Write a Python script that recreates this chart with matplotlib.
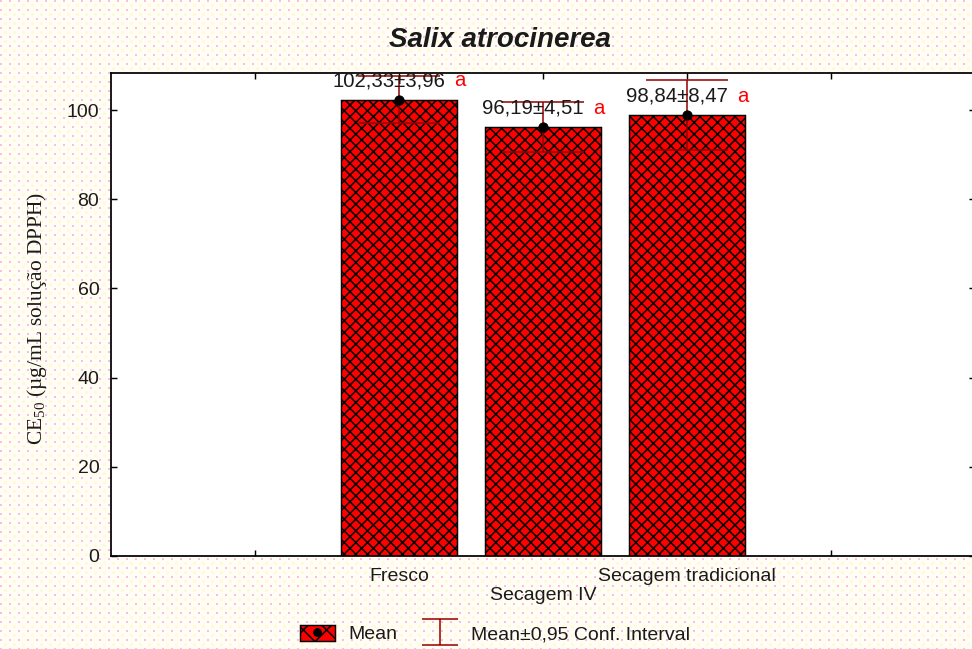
import numpy as np
import matplotlib
matplotlib.use('Agg')
import matplotlib.pyplot as plt
from matplotlib.patches import Patch
from matplotlib.lines import Line2D
from matplotlib.path import Path

# Dados do gráfico
categorias = ['Fresco', 'Secagem IV', 'Secagem tradicional']
medias = [102.33, 96.19, 98.84]
desvios = [3.96, 4.51, 8.47]
ic95 = [5.2, 5.5, 7.9]
letras = ['a', 'a', 'a']

# Estilo geral
dpi = 70
plt.rcParams['font.family'] = ['Liberation Sans', 'DejaVu Sans']
plt.rcParams['hatch.linewidth'] = 1.6
plt.rcParams['mathtext.fontset'] = 'custom'
plt.rcParams['mathtext.rm'] = 'Liberation Serif'

vermelho = '#FF0000'
vinho = '#990000'
texto = '#1a1a1a'

fig = plt.figure(figsize=(972 / dpi, 649 / dpi), dpi=dpi)
fig.patch.set_facecolor('#FFFEF6')

# Fundo pontilhado (amarelo claro com pontos rosa)
tile = np.ones((9, 9, 3))
tile[:, :] = [1.0, 0.996, 0.965]
tile[0:2, 0:2] = [0.97, 0.76, 0.84]
tile[4:7, 4:7] = [1.0, 0.98, 0.84]
fundo = np.tile(tile, (649 // 9 + 1, 972 // 9 + 1, 1))[:649, :972]
fig.figimage(fundo, 0, 0, zorder=-1)

ax = fig.add_axes([111 / 972, 1 - 556 / 649, (975 - 111) / 972, (556 - 73) / 649])
ax.set_facecolor('white')

x = np.arange(len(categorias))

# Barras com padrão quadriculado
ax.bar(x, medias, width=0.80, color=vermelho, edgecolor='black',
       linewidth=1.5, hatch='xx', zorder=2)

# Intervalo de confiança
ax.errorbar(x, medias, yerr=ic95, fmt='none', ecolor=vinho, elinewidth=1.6,
            capsize=42, capthick=1.6, zorder=3)
ax.plot(x, medias, 'o', color='black', markersize=9.5, zorder=4)

# Rótulos média±desvio e letra
for i in range(len(categorias)):
    num = f'{medias[i]:.2f}±{desvios[i]:.2f}'.replace('.', ',')
    t = ax.annotate(num, xy=(x[i], medias[i] + 4.2), xytext=(-10, 0),
                    textcoords='offset pixels', ha='center', va='center',
                    fontsize=21, color=texto, zorder=5)
    ax.annotate(letras[i], xy=(1, 0.5), xycoords=t, xytext=(9, 0),
                textcoords='offset pixels', ha='left', va='center',
                fontsize=21, color=vermelho, zorder=5)

ax.set_xlim(-2, 4)
ax.set_ylim(0, 108.3)

ax.set_xticks([-1, 0, 1, 2, 3])
ax.set_xticklabels(['', categorias[0], '\n' + categorias[1], categorias[2], ''])
ax.set_yticks([0, 20, 40, 60, 80, 100])

ax.tick_params(axis='both', direction='in', length=6, width=1.5,
               labelsize=20, labelcolor=texto, top=True, right=True)
ax.tick_params(axis='x', pad=12)
ax.tick_params(axis='y', pad=12)

for s in ax.spines.values():
    s.set_linewidth(1.8)

# Título e eixo y
fig.text(500 / 972, 1 - 40 / 649, 'Salix atrocinerea', ha='center', va='center',
         fontsize=28.5, fontweight='bold', fontstyle='italic', color=texto)
fig.text(37 / 972, 1 - 318 / 649, 'CE$_{\\mathregular{50}}$ (µg/mL solução DPPH)',
         rotation=90, ha='center', va='center', fontsize=22,
         family='Liberation Serif', color=texto)

# Legenda
h_media = (Patch(facecolor=vermelho, edgecolor='black', hatch='x', linewidth=1.5),
           Line2D([], [], ls='none', marker='o', color='black', markersize=8))
forma_i = Path([(-1, 0.72), (1, 0.72), (0, 0.72), (0, -0.72), (-1, -0.72), (1, -0.72)],
               [Path.MOVETO, Path.LINETO, Path.MOVETO, Path.LINETO, Path.MOVETO, Path.LINETO])
h_ic = Line2D([], [], ls='none', marker=forma_i, markersize=37,
              markeredgecolor=vinho, markerfacecolor='none', markeredgewidth=1.6)
fig.legend([h_media, h_ic], ['Mean', 'Mean±0,95 Conf. Interval'],
           loc='center', bbox_to_anchor=(495 / 972, 1 - 634 / 649), ncol=2,
           frameon=False, fontsize=20, handlelength=1.8, handleheight=0.9,
           handletextpad=0.7, columnspacing=1.3, labelcolor=texto)

fig.savefig('out.png', dpi=dpi)
